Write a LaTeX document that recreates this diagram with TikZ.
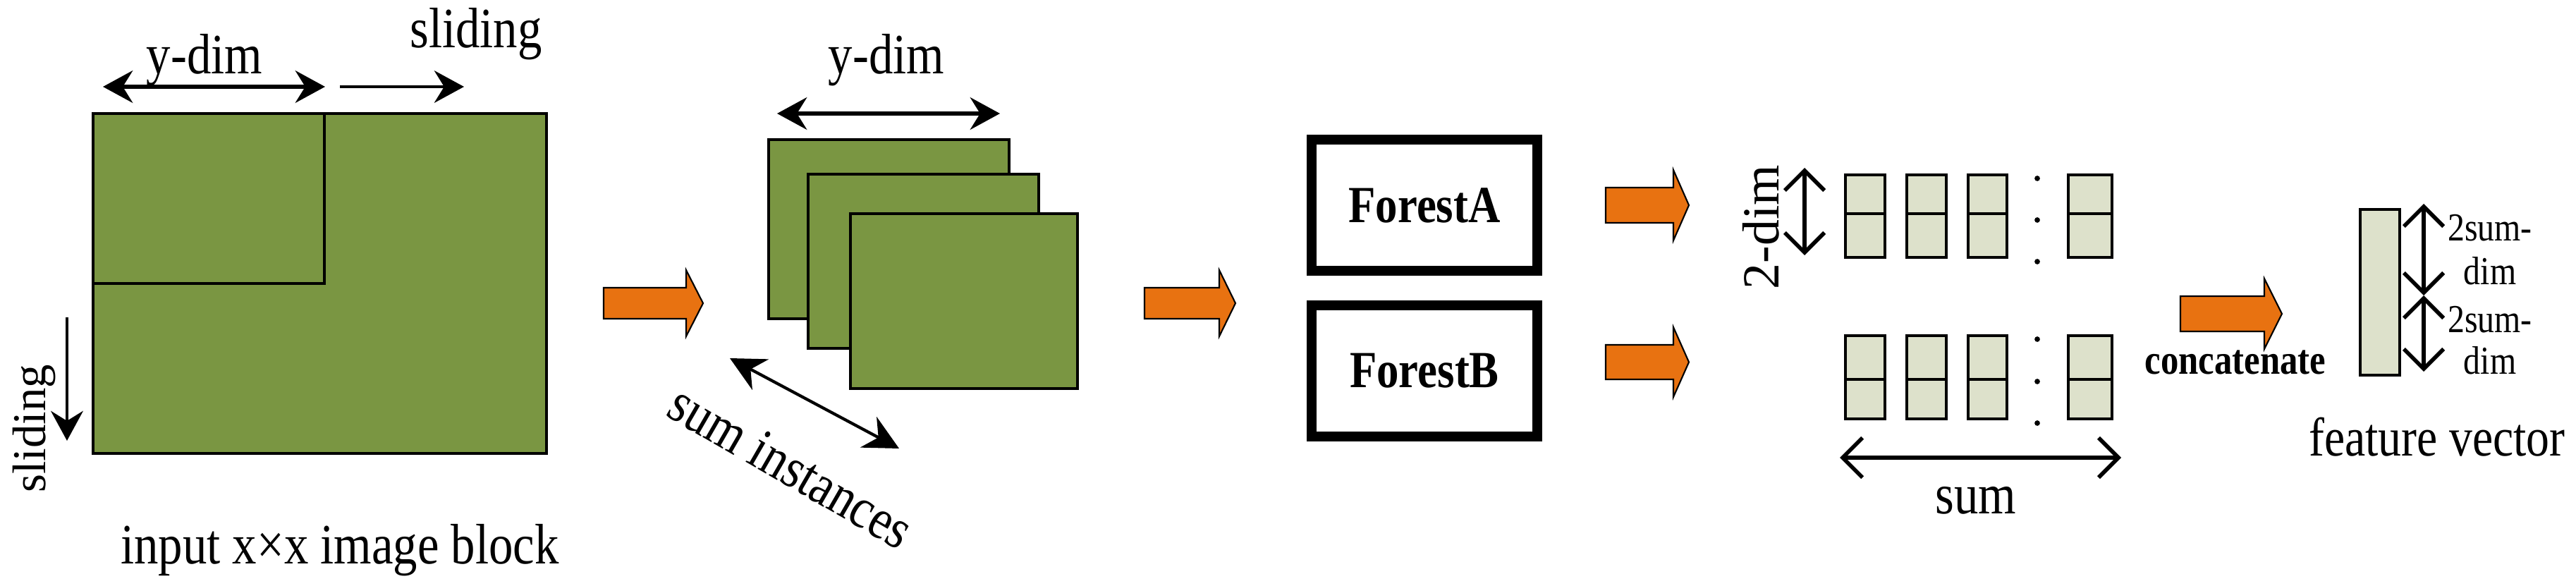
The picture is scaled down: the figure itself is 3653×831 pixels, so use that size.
\documentclass[tikz,border=0pt]{standalone}
\usepackage{fontspec}
\setmainfont{Liberation Serif}[FakeStretch=0.85]
\newfontfamily\uprot{Liberation Serif}
\usetikzlibrary{arrows.meta}
\definecolor{grn}{HTML}{7A9642}
\definecolor{org}{HTML}{E87211}
\definecolor{cell}{HTML}{DDE1CB}
\tikzset{
 gbox/.style={draw=black,line width=1.2pt,fill=grn},
 cellbox/.style={draw=black,line width=1.2pt,fill=cell},
 forest/.style={draw=black,line width=4pt,minimum width=3.2cm,minimum height=1.86cm,font=\fontsize{21}{24}\selectfont\bfseries},
 lbl/.style={font=\fontsize{23}{26}\selectfont,inner sep=0pt},
 dbl/.style={line width=1.6pt,{Stealth[length=12pt,width=13pt,inset=4pt]}-{Stealth[length=12pt,width=13pt,inset=4pt]}},
 sgl/.style={line width=1.2pt,-{Stealth[length=12pt,width=13pt,inset=4pt]}},
 barb/.style={line width=1.6pt,{Straight Barb[length=8pt,width=16pt]}-{Straight Barb[length=8pt,width=16pt]}},
 oarrow/.style={draw=black,line width=0.6pt,fill=org},
 dotc/.style={circle,fill=black,inner sep=0pt,minimum size=2.2pt}
}
\newcommand{\oarr}[6]{%
 \draw[oarrow] (#1,#4) -- (#3,#4) -- (#3,#4-#6) -- (#2,{(#4+#5)/2}) -- (#3,#5+#6) -- (#3,#5) -- (#1,#5) -- cycle;}
\begin{document}
\begin{tikzpicture}[x=0.01cm,y=-0.01cm]
\useasboundingbox (0,0) rectangle (3653,831);
% input block
\draw[gbox] (132,161) rectangle (775,643);
\draw[gbox] (132,161) rectangle (460,402);
\coordinate (ya) at (146,123); \coordinate (yb) at (461,123);
\draw[dbl] (ya) -- (yb);
\node[lbl] (ydim1) at (290,85) {y-dim};
\coordinate (sa) at (482,123); \coordinate (sb) at (658,123);
\draw[sgl] (sa) -- (sb);
\node[lbl] (sl1) at (675,48) {sliding};
\coordinate (da) at (95,450); \coordinate (db) at (95,625);
\draw[sgl] (da) -- (db);
\node[lbl,font=\fontsize{19}{22}\selectfont\uprot,rotate=90] (sl2) at (49,608) {sliding};
\node[lbl] (inp) at (482,780) {input x×x image block};
% arrow 1
\oarr{856}{997}{973}{408}{452}{25}
% stack
\draw[gbox] (1090,198) rectangle (1431,452);
\draw[gbox] (1146,247) rectangle (1473,494);
\draw[gbox] (1206,303) rectangle (1528,551);
\coordinate (y2a) at (1102,161); \coordinate (y2b) at (1418,161);
\draw[dbl] (y2a) -- (y2b);
\node[lbl] (ydim2) at (1257,85) {y-dim};
\coordinate (ia) at (1035,508); \coordinate (ib) at (1275,636);
\draw[line width=1.2pt,{Stealth[length=14pt,width=14pt]}-{Stealth[length=14pt,width=14pt]}] (ia) -- (ib);
\node[lbl,rotate=-30] (inst) at (1122,662) {sum instances};
% arrow 2
\oarr{1623}{1752}{1729}{408}{452}{25}
% forests
\node[forest] (fa) at (2020,291) {ForestA};
\node[forest] (fb) at (2020,526) {ForestB};
\oarr{2277}{2395}{2373}{266}{316}{25}
\oarr{2277}{2395}{2373}{489}{538}{25}
% cells
\foreach \x/\w in {2617/2673,2704/2760,2791/2846,2933/2995}{
 \draw[cellbox] (\x,248) rectangle (\w,303);
 \draw[cellbox] (\x,303) rectangle (\w,365);
 \draw[cellbox] (\x,476) rectangle (\w,538);
 \draw[cellbox] (\x,538) rectangle (\w,594);
}
\foreach \y in {253,312,371,481,541,600} \node[dotc] at (2889,\y) {};
\coordinate (ta) at (2559,238); \coordinate (tb) at (2559,362);
\draw[barb] (ta) -- (tb);
\node[lbl,font=\fontsize{21}{24}\selectfont\uprot,rotate=90] (twodim) at (2497,322) {2-dim};
\coordinate (sma) at (2609,649); \coordinate (smb) at (3008,649);
\draw[barb] (sma) -- (smb);
\node[lbl] (sum) at (2802,710) {sum};
% concatenate
\oarr{3092}{3236}{3211}{420}{470}{25}
\node[lbl,font=\fontsize{17}{20}\selectfont\bfseries] (cat) at (3170,514) {concatenate};
\draw[cellbox] (3347,297) rectangle (3403,532);
\coordinate (fa1) at (3437,289); \coordinate (fm) at (3437,419); \coordinate (fb1) at (3437,527);
\draw[barb] (fa1) -- (fm);
\draw[barb] (fm) -- (fb1);
\node[lbl,font=\fontsize{16}{18}\selectfont] (d1) at (3531,323) {2sum-};
\node[lbl,font=\fontsize{16}{18}\selectfont] (d2) at (3531,384) {dim};
\node[lbl,font=\fontsize{16}{18}\selectfont] (d3) at (3531,453) {2sum-};
\node[lbl,font=\fontsize{16}{18}\selectfont] (d4) at (3531,511) {dim};
\node[lbl,font=\fontsize{22}{25}\selectfont] (fv) at (3456,620) {feature vector};
\end{tikzpicture}
\end{document}
